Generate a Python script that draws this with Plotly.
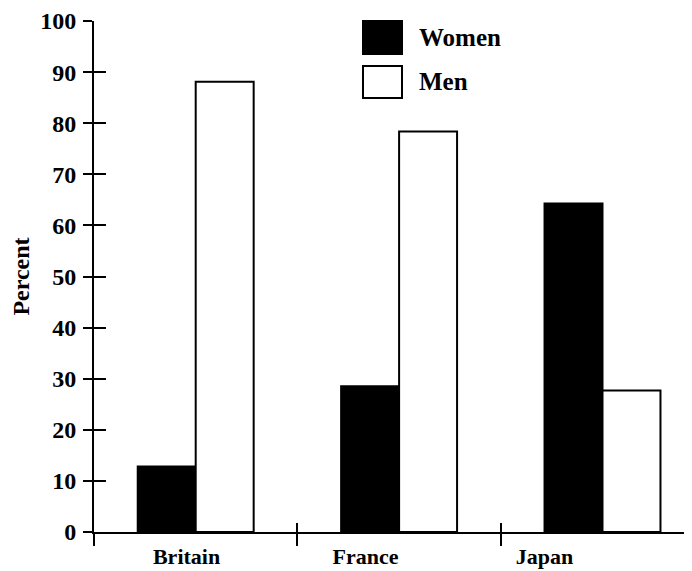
import plotly.graph_objects as go

# ---- data ----
categories = ["Britain", "France", "Japan"]
series_names = ["Women", "Men"]
women = [12.8, 28.5, 64.3]
men = [88.1, 78.4, 27.7]
y_ticks = list(range(0, 101, 10))

# ---- style / layout constants ----
OFF = 8  # page body margin of the html page
W, H = 692 - OFF, 571 - OFF
ML, MR, MT, MB = 94 - OFF, 0, 21 - OFF, 38.5
PW, PH = W - ML - MR, H - MT - MB
FONT = dict(family="Liberation Serif", size=24, color="black", weight="bold")
LFONT = dict(family="Liberation Serif", size=25, color="black", weight="bold")
XFONT = dict(family="Liberation Serif", size=22, color="black", weight="bold")
X_RANGE = [-0.5, 2.44]
label_offsets = [-0.045, -0.165, -0.285]   # label shift relative to group centre
divider_pos = [-0.5, 0.5, 1.5]

xs = list(range(len(categories)))

fig = go.Figure()
fig.add_trace(go.Bar(x=xs, y=women, name=series_names[0],
                     marker=dict(color="black", line=dict(color="black", width=2))))
fig.add_trace(go.Bar(x=xs, y=men, name=series_names[1],
                     marker=dict(color="white", line=dict(color="black", width=2))))
# helper traces to bind the overlay axes
fig.add_trace(go.Scatter(x=[None], y=[None], xaxis="x2", yaxis="y2",
                         showlegend=False, hoverinfo="skip"))
fig.add_trace(go.Scatter(x=[None], y=[None], xaxis="x3", yaxis="y",
                         showlegend=False, hoverinfo="skip"))

fig.update_layout(
    width=W, height=H, autosize=False,
    margin=dict(l=ML, r=MR, t=MT, b=MB, pad=0),
    paper_bgcolor="white", plot_bgcolor="white",
    barmode="group", bargap=0.43, bargroupgap=0,
    showlegend=False,
    font=FONT,
    xaxis=dict(range=X_RANGE, tickvals=[i + o for i, o in zip(xs, label_offsets)],
               ticktext=categories, ticks="", showline=True, linewidth=2,
               linecolor="black", showgrid=False, zeroline=False,
               tickfont=XFONT, ticklabelstandoff=4, automargin=False),
    xaxis2=dict(range=X_RANGE, overlaying="x", anchor="y2", tickvals=divider_pos,
                ticks="outside", ticklen=13, tickwidth=2, tickcolor="black",
                showticklabels=False, showline=False, showgrid=False, zeroline=False,
                automargin=False),
    xaxis3=dict(range=X_RANGE, overlaying="x", anchor="y", tickvals=divider_pos,
                ticks="inside", ticklen=9, tickwidth=2, tickcolor="black",
                showticklabels=False, showline=False, showgrid=False, zeroline=False,
                automargin=False),
    yaxis=dict(range=[0, 100], tickvals=y_ticks, ticks="outside", ticklen=9,
               tickwidth=2, tickcolor="black", showline=True, linewidth=2,
               linecolor="black", showgrid=False, zeroline=False, tickfont=FONT,
               ticklabelstandoff=2, automargin=False,
               title=dict(text="Percent", font=FONT, standoff=8)),
    yaxis2=dict(range=[0, 100], overlaying="y", anchor="x", side="left",
                tickvals=y_ticks, ticks="inside", ticklen=12, tickwidth=2,
                tickcolor="black", showticklabels=False, showline=False,
                showgrid=False, zeroline=False, automargin=False),
)


def px_x(p):
    return (p - OFF - ML) / PW


def px_y(p):
    return (H - MB - (p - OFF)) / PH


# manual legend with large swatches (page pixel positions)
legend_items = [
    (series_names[0], "black", 21, 54, 38),
    (series_names[1], "white", 66, 98, 82),
]
for name, fill, top, bottom, mid in legend_items:
    fig.add_shape(type="rect", xref="paper", yref="paper",
                  x0=px_x(363), x1=px_x(402), y0=px_y(bottom), y1=px_y(top),
                  fillcolor=fill, line=dict(color="black", width=2))
    fig.add_annotation(xref="paper", yref="paper", x=px_x(417), y=px_y(mid),
                       text=name, showarrow=False, xanchor="left", yanchor="middle",
                       font=LFONT)

fig.write_html("out.html")
